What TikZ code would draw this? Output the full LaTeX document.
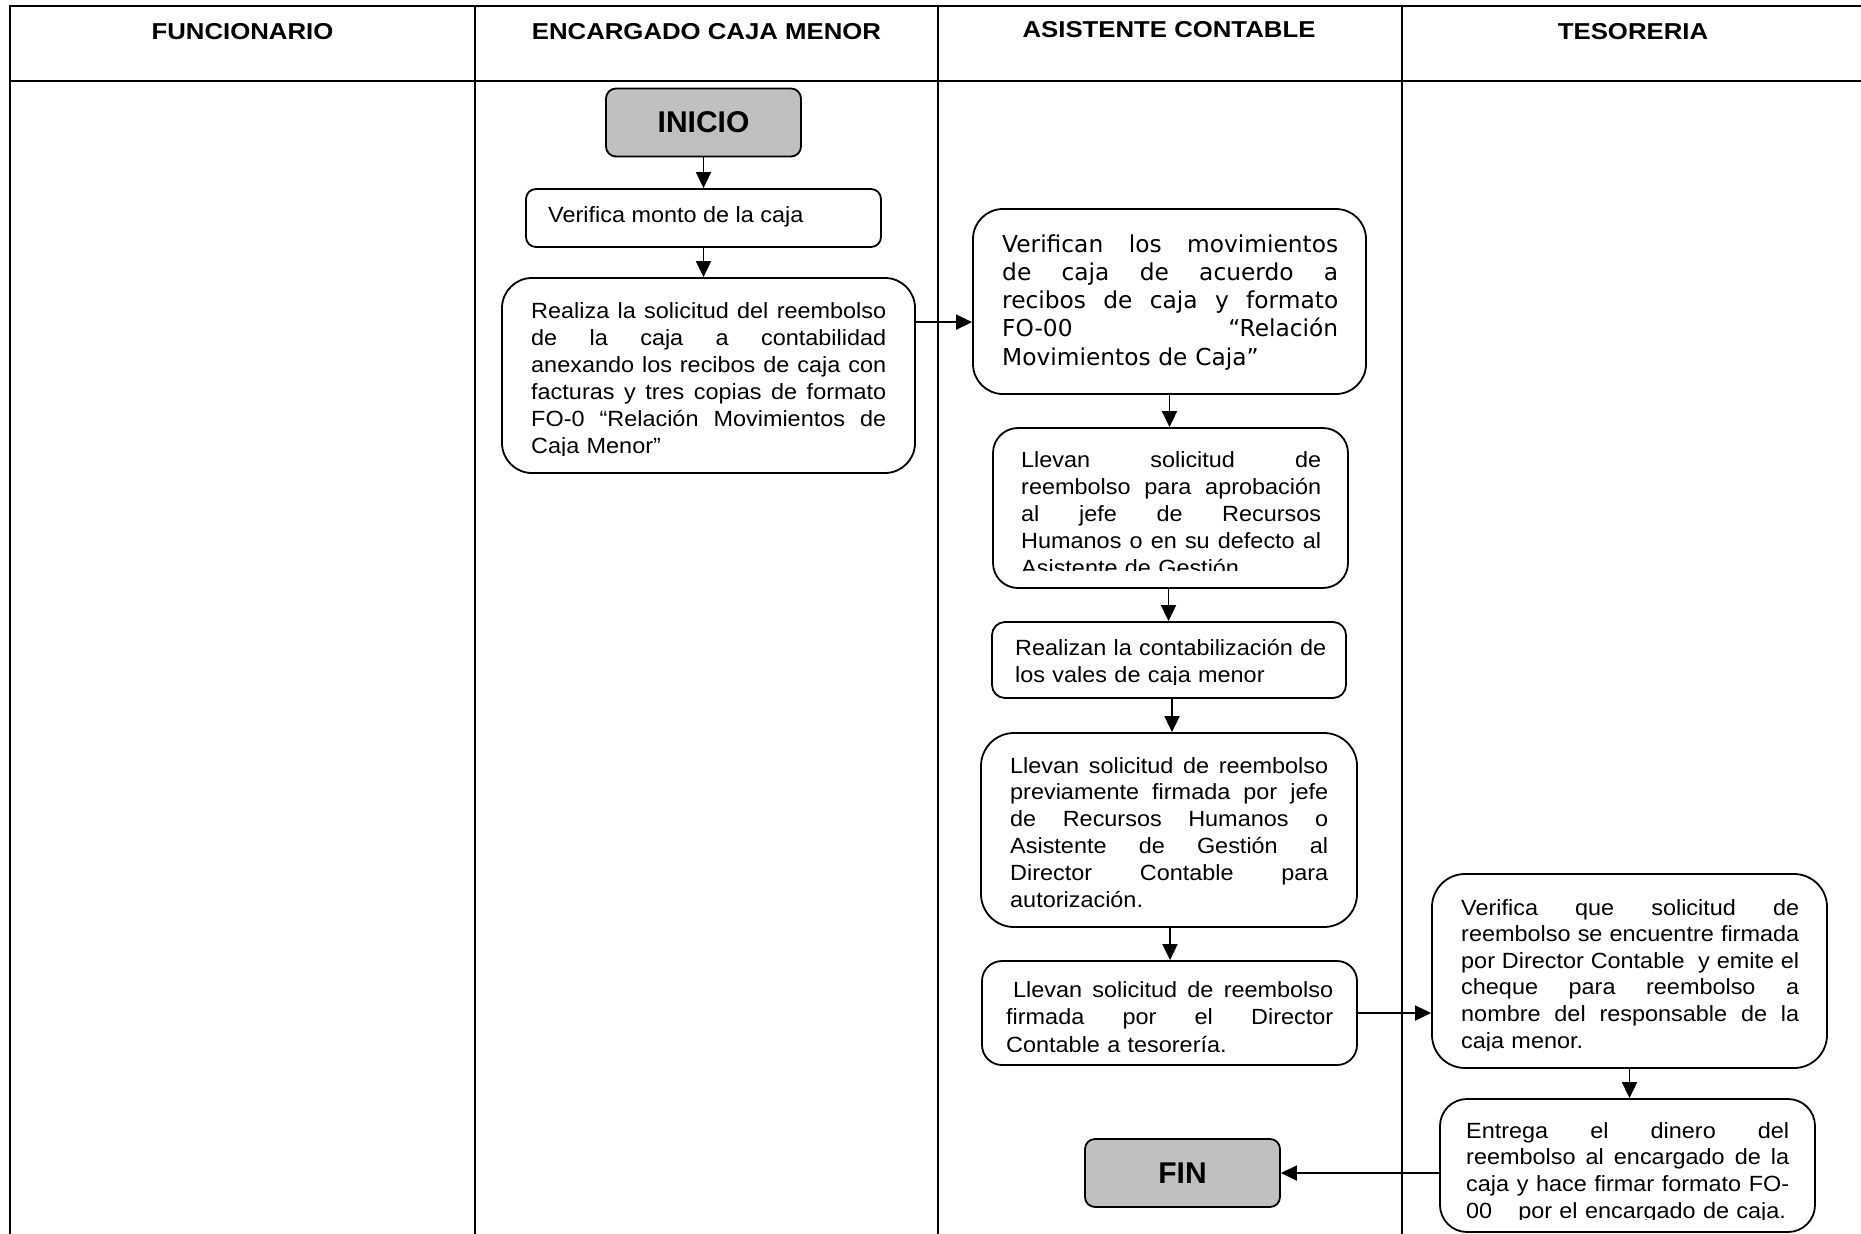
\documentclass[tikz,border=0pt]{standalone}
\usepackage{fontspec}
\setmainfont{Liberation Sans}
\newfontfamily\bodyfont{Liberation Sans}[FakeStretch=1.065]
\newfontfamily\headfont{Liberation Sans}[FakeStretch=1.12]
\newfontfamily\verdfont{DejaVu Sans}
\usetikzlibrary{arrows.meta}

% one fully justified line of a text box: word spaces stretch to the box width
\newcommand\jline[1]{\leavevmode\hbox to \hsize{\spaceskip=\fontdimen2\font plus 1fil\relax #1}\\}

\definecolor{termgray}{HTML}{C0C0C0}

\tikzset{
  lane/.style={line width=2.2pt, line cap=rect},
  proc/.style={draw, line width=1.8pt, fill=white, inner sep=0pt},
  term/.style={draw, line width=1.8pt, fill=termgray, rounded corners=10pt,
    inner sep=0pt, minimum width=195pt, minimum height=68pt,
    font=\bfseries\fontsize{30}{36}\selectfont},
  txt/.style={inner sep=0pt, anchor=base west, font=\bodyfont\fontsize{22}{27}\selectfont},
  head/.style={inner sep=0pt, font=\headfont\bfseries\fontsize{23}{28}\selectfont},
  arr/.style={line width=1.8pt, -{Triangle[length=16pt,width=15pt]}},
}

\begin{document}
\begin{tikzpicture}[x=1pt,y=-1pt]
\useasboundingbox (0,0) rectangle (1861,1234);
\fill[white] (0,0) rectangle (1861,1234);

% swimlane table
\draw[lane] (10,6) -- (1861,6);
\draw[lane] (10,81) -- (1861,81);
\draw[lane] (10,6) -- (10,1234);
\foreach \x in {475,938,1402} \draw[lane] (\x,6) -- (\x,1234);

\node[head] (h-func) at (242.5,32) {FUNCIONARIO};
\node[head] (h-enc)  at (706.5,32) {ENCARGADO CAJA MENOR};
\node[head] (h-asis) at (1169,30)  {ASISTENTE CONTABLE};
\node[head] (h-teso) at (1633,32)  {TESORERIA};

% ---- Encargado caja menor
\node[term] (inicio) at (703.5,122.5) {INICIO};

\node[proc, rounded corners=10pt, minimum width=355pt, minimum height=58pt] (verifica) at (703.5,218) {};
\node[txt] (verifica-txt) at (548,222) {Verifica monto de la caja};

\node[proc, rounded corners=30pt, minimum width=413pt, minimum height=195pt] (realiza) at (708.5,375.5) {};
\begin{scope}
  \clip (502,278) rectangle (915,455);
  \node[txt, text width=355pt] (realiza-txt) at (531,318) {%
    \jline{Realiza la solicitud del reembolso}%
    \jline{de la caja a contabilidad}%
    \jline{anexando los recibos de caja con}%
    \jline{facturas y tres copias de formato}%
    \jline{FO-0 “Relación Movimientos de}%
    Caja Menor”};
\end{scope}

% ---- Asistente contable
\node[proc, rounded corners=30pt, minimum width=393pt, minimum height=185pt] (verifican) at (1169.5,301.5) {};
\node[txt, text width=336pt, font=\verdfont\fontsize{23.3}{28.25}\selectfont] (verifican-txt) at (1002,252) {%
  \jline{Verifican los movimientos}%
  \jline{de caja de acuerdo a}%
  \jline{recibos de caja y formato}%
  \jline{FO-00 “Relación}%
  Movimientos de Caja”};

\node[proc, rounded corners=25pt, minimum width=355pt, minimum height=160pt] (llevan1) at (1170.5,508) {};
\begin{scope}
  \clip (993,428) rectangle (1348,570);
  \node[txt, text width=300pt] (llevan1-txt) at (1021,467) {%
    \jline{Llevan solicitud de}%
    \jline{reembolso para aprobación}%
    \jline{al jefe de Recursos}%
    \jline{Humanos o en su defecto al}%
    Asistente de Gestión};
\end{scope}

\node[proc, rounded corners=13pt, minimum width=354pt, minimum height=76pt] (realizan) at (1169,660) {};
\begin{scope}
  \clip (992,622) rectangle (1346,684);
  \node[txt, text width=320pt, align=left] (realizan-txt) at (1015,655) {%
    Realizan la contabilización de\\
    los vales de caja menor};
\end{scope}

\node[proc, rounded corners=33pt, minimum width=376pt, minimum height=194pt] (llevan2) at (1169,830) {};
\node[txt, text width=318pt, font=\bodyfont\fontsize{22}{26.8}\selectfont] (llevan2-txt) at (1010,773) {%
  \jline{Llevan solicitud de reembolso}%
  \jline{previamente firmada por jefe}%
  \jline{de Recursos Humanos o}%
  \jline{Asistente de Gestión al}%
  \jline{Director Contable para}%
  autorización.};

\node[proc, rounded corners=20pt, minimum width=375pt, minimum height=104pt] (llevan3) at (1169.5,1013) {};
\begin{scope}
  \clip (982,961) rectangle (1357,1051);
  \node[txt, text width=327pt, font=\bodyfont\fontsize{22}{27.5}\selectfont] (llevan3-txt) at (1006,997) {%
    \jline{\hspace*{7pt}Llevan solicitud de reembolso}%
    \jline{firmada por el Director}%
    Contable a tesorería.};
\end{scope}

\node[term] (fin) at (1182.5,1173) {FIN};

% ---- Tesoreria
\node[proc, rounded corners=33pt, minimum width=395pt, minimum height=194pt] (verificaT) at (1629.5,971) {};
\begin{scope}
  \clip (1432,874) rectangle (1827,1050);
  \node[txt, text width=338pt, font=\bodyfont\fontsize{22}{26.6}\selectfont] (verificaT-txt) at (1461,915) {%
    \jline{Verifica que solicitud de}%
    \jline{reembolso se encuentre firmada}%
    \jline{por Director Contable\ \ y emite el}%
    \jline{cheque para reembolso a}%
    \jline{nombre del responsable de la}%
    caja menor.};
\end{scope}

\node[proc, rounded corners=27pt, minimum width=375pt, minimum height=133pt] (entrega) at (1627.5,1165.5) {};
\begin{scope}
  \clip (1440,1099) rectangle (1815,1219);
  \node[txt, text width=323pt, font=\bodyfont\fontsize{22}{26.7}\selectfont] (entrega-txt) at (1466,1138) {%
    \jline{Entrega el dinero del}%
    \jline{reembolso al encargado de la}%
    \jline{caja y hace firmar formato FO-}%
    00\hspace{26pt}por el encargado de caja.};
\end{scope}

% ---- connectors
\draw[arr] (inicio.south) -- (inicio.south |- verifica.north);
\draw[arr] (verifica.south) -- (verifica.south |- realiza.north);
\draw[arr] ([yshift=-45pt]realiza.north east) -- ([yshift=-45pt]realiza.north east -| verifican.west);
\draw[arr] (verifican.south) -- (verifican.south |- llevan1.north);
\draw[arr] ([xshift=-2pt]llevan1.south) -- ([xshift=-2pt]llevan1.south |- realizan.north);
\draw[arr] ([xshift=3pt]realizan.south) -- ([xshift=3pt]realizan.south |- llevan2.north);
\draw[arr] ([xshift=1pt]llevan2.south) -- ([xshift=1pt]llevan2.south |- llevan3.north);
\draw[arr] (llevan3.east) -- (llevan3.east -| verificaT.west);
\draw[arr] (verificaT.south) -- (verificaT.south |- entrega.north);
\draw[arr] (entrega.west |- fin.east) -- (fin.east);

\end{tikzpicture}
\end{document}
